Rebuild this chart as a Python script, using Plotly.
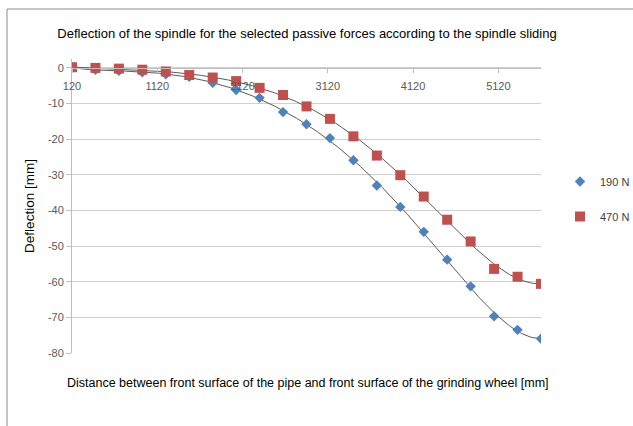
import numpy as np
import plotly.graph_objects as go

# ---- data ----
distance = [120, 395, 670, 945, 1220, 1495, 1770, 2045, 2320, 2595, 2870,
            3145, 3420, 3695, 3970, 4245, 4520, 4795, 5070, 5345, 5620]
defl_190 = [0.0, -0.5, -0.8, -1.2, -1.8, -2.5, -4.2, -6.2, -8.4, -12.4, -15.8,
            -19.7, -25.9, -33.0, -39.0, -46.0, -53.8, -61.3, -69.7, -73.5, -76.0]
defl_470 = [0.2, 0.0, -0.2, -0.5, -1.0, -2.0, -2.7, -3.7, -5.6, -7.6, -10.8,
            -14.3, -19.2, -24.6, -30.1, -36.1, -42.6, -48.7, -56.4, -58.6, -60.6]
series_names = ["190 N", "470 N"]
x_ticks = [120, 1120, 2120, 3120, 4120, 5120]
y_ticks = [0, -10, -20, -30, -40, -50, -60, -70, -80]

W, H = 633, 426
L, R, T, B = 72, 92, 59, 73
pw, ph = W - L - R, H - T - B
ymin, ymax = -80, 2.5
xmin, xmax = 120, 5620

def trend(x, y, deg=6):
    x = np.asarray(x, float)
    xm, xs = x.mean(), x.std()
    c = np.polyfit((x - xm) / xs, y, deg)
    xx = np.linspace(x.min(), x.max(), 300)
    return xx, np.polyval(c, (xx - xm) / xs)

fig = go.Figure()
line_col = "#5a5a5a"
for y in (defl_190, defl_470):
    xx, yy = trend(distance, y)
    fig.add_trace(go.Scatter(x=xx, y=yy, mode="lines", showlegend=False,
                             line=dict(color=line_col, width=1), hoverinfo="skip"))

fig.add_trace(go.Scatter(x=distance, y=defl_190, mode="markers", name=series_names[0],
                         legendgroup="a",
                         marker=dict(symbol="diamond", size=8, color="#4f81bd")))
fig.add_trace(go.Scatter(x=distance, y=defl_470, mode="markers", name=series_names[1],
                         legendgroup="b",
                         marker=dict(symbol="square", size=10, color="#c0504d")))

zero_pos = (0 - ymin) / (ymax - ymin)
font_fam = "Liberation Sans"
fig.update_layout(
    width=W, height=H,
    margin=dict(l=L, r=R, t=T, b=B, autoexpand=False),
    paper_bgcolor="white", plot_bgcolor="white",
    font=dict(family=font_fam, size=11, color="#595959"),
    title=dict(text="Deflection of the spindle for the selected passive forces according to the spindle sliding",
               x=307 / W, xanchor="center", xref="container", y=1 - 33 / H, yref="container",
               yanchor="middle",
               font=dict(family=font_fam, size=13, color="#000000")),
    showlegend=True,
    legend=dict(xref="container", yref="container", x=560 / W, y=1 - 167 / H,
                xanchor="left", yanchor="top",
                font=dict(size=11, color="#404040"), tracegroupgap=16, itemsizing="trace",
                itemwidth=30, bgcolor="rgba(0,0,0,0)"),
    xaxis=dict(range=[xmin, xmax], tickvals=x_ticks, showgrid=False, zeroline=False,
               anchor="free", position=zero_pos, showline=True, linecolor="#bfbfbf",
               ticks="outside", ticklen=4, tickcolor="#bfbfbf", automargin=False,
               ticklabelstandoff=4,
               tickfont=dict(size=11, color="#595959")),
    yaxis=dict(range=[ymin, ymax], tickvals=y_ticks, ticktext=[str(v) for v in y_ticks],
               showgrid=True, gridcolor="#d0d0d0", automargin=False,
               zeroline=False, showline=True, linecolor="#bfbfbf", ticks="outside",
               ticklen=5, tickcolor="#bfbfbf", tickfont=dict(size=11, color="#595959"),
               title=dict(text="Deflection [mm]", standoff=10,
                          font=dict(size=13.5, color="#000000"))),
    annotations=[dict(text="Distance between front surface of the pipe and front surface of the grinding wheel [mm]",
                      xref="paper", yref="paper", x=(308 - L) / pw, y=(H - B - 383) / ph,
                      xanchor="center", yanchor="middle", showarrow=False,
                      font=dict(family=font_fam, size=12.5, color="#000000"))],
    shapes=[dict(type="rect", xref="paper", yref="paper",
                 x0=(7 - L) / pw, x1=(650 - L) / pw,
                 y0=(H - B - 440) / ph, y1=(H - B - 9) / ph,
                 line=dict(color="#8c8c8c", width=1), fillcolor="rgba(0,0,0,0)", layer="below")],
)

fig.write_html("out.html", config={"displayModeBar": False},
               post_script="document.body.style.margin='0';")
